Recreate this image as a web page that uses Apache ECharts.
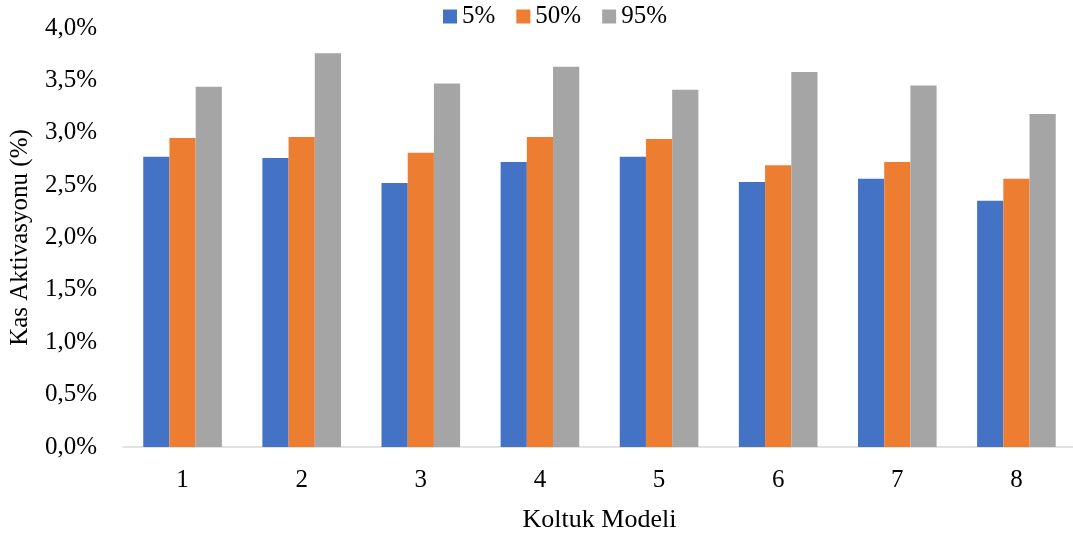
<!DOCTYPE html>
<html>
<head>
<meta charset="utf-8">
<script src="https://cdn.jsdelivr.net/npm/echarts@6/dist/echarts.min.js"></script>
<style>html,body{margin:0;padding:0;background:#fff}#c{width:1073px;height:535px}</style>
</head>
<body>
<div id="c"></div>
<script>
var categories = ['1','2','3','4','5','6','7','8'];
var seriesNames = ['5%','50%','95%'];
var s5 = [2.77, 2.76, 2.52, 2.72, 2.77, 2.53, 2.56, 2.35];
var s50 = [2.95, 2.96, 2.81, 2.96, 2.94, 2.69, 2.72, 2.56];
var s95 = [3.44, 3.76, 3.47, 3.63, 3.41, 3.58, 3.45, 3.18];
var colors = ['#4472C4','#ED7D31','#A5A5A5'];
var font = '"Liberation Serif","Times New Roman",serif';

var chart = echarts.init(document.getElementById('c'));
function mk(name, data, color){
  return {name:name, type:'bar', data:data, barGap:'0%', barCategoryGap:'34%',
    itemStyle:{color:color}};
}
chart.setOption({
  animation:false,
  textStyle:{fontFamily:font},
  legend:{top:-1, left:438, itemWidth:14, itemHeight:14, itemGap:21,
    icon:'rect', textStyle:{fontFamily:font, fontSize:25, color:'#000'}, data:seriesNames},
  grid:{left:123, right:-3, top:28, bottom:88, containLabel:false, outerBoundsMode:'none'},
  xAxis:{type:'category', data:categories,
    name:'Koltuk Modeli', nameLocation:'middle', nameGap:60,
    nameTextStyle:{fontFamily:font, fontSize:26, color:'#000'},
    axisLine:{lineStyle:{color:'#d9d9d9', width:1.5}},
    axisTick:{show:false},
    axisLabel:{fontFamily:font, fontSize:25, color:'#000', margin:21}},
  yAxis:{type:'value', min:0, max:4, interval:0.5,
    name:'Kas Aktivasyonu (%)', nameLocation:'middle', nameGap:90,
    nameTextStyle:{fontFamily:font, fontSize:25, color:'#000'},
    axisLine:{show:false}, axisTick:{show:false}, splitLine:{show:false},
    axisLabel:{fontFamily:font, fontSize:25, color:'#000', margin:26,
      formatter:function(v){return v.toFixed(1).replace('.',',')+'%';}}},
  series:[mk(seriesNames[0], s5, colors[0]), mk(seriesNames[1], s50, colors[1]), mk(seriesNames[2], s95, colors[2])]
});
</script>
</body>
</html>
